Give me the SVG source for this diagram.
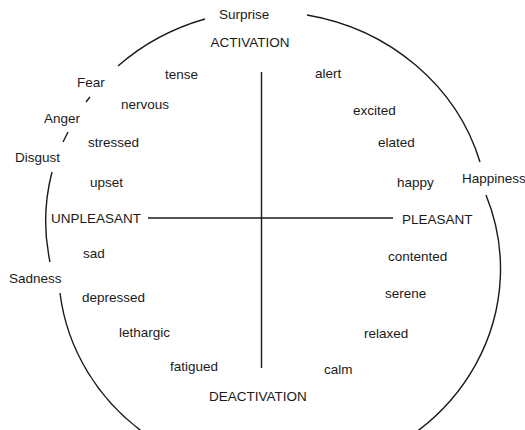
<svg xmlns="http://www.w3.org/2000/svg" width="525" height="430" viewBox="0 0 525 430">
<style>
text{font-family:"Liberation Sans",Arial,sans-serif;font-size:13.5px;fill:#1a1a1a}
.ln{fill:none;stroke:#1a1a1a;stroke-width:1.4}
</style>
<rect width="525" height="430" fill="#fff"/>
<g id="connectors">
<path class="ln" d="M205,19 A221,207.5 0 0 0 118,66"/>
<path class="ln" d="M90,97 L86,102"/>
<path class="ln" d="M68,132 L63,142"/>
<path class="ln" d="M52,172 A221,207.5 0 0 0 50,262"/>
<path class="ln" d="M60,293 A221,207.5 0 1 0 486,195"/>
<path class="ln" d="M480,162 A221,207.5 0 0 0 307,15"/>
<path class="ln" d="M148,218 L393,218"/>
<path class="ln" d="M261.5,72 L261.5,368"/>
</g>
<g id="emotions">
<text x="219" y="19">Surprise</text>
<text x="77" y="87">Fear</text>
<text x="44" y="123">Anger</text>
<text x="15" y="162">Disgust</text>
<text x="9" y="283">Sadness</text>
<text x="462" y="183">Happiness</text>
</g>
<g id="axes-labels">
<text x="250" y="47" text-anchor="middle">ACTIVATION</text>
<text x="258" y="401" text-anchor="middle">DEACTIVATION</text>
<text x="51" y="223">UNPLEASANT</text>
<text x="402" y="224">PLEASANT</text>
</g>
<g id="affect-words">
<text x="165" y="79">tense</text>
<text x="121" y="109">nervous</text>
<text x="88" y="147">stressed</text>
<text x="90" y="187">upset</text>
<text x="83" y="258">sad</text>
<text x="82" y="302">depressed</text>
<text x="119" y="337">lethargic</text>
<text x="170" y="371">fatigued</text>
<text x="315" y="78">alert</text>
<text x="353" y="115">excited</text>
<text x="378" y="147">elated</text>
<text x="397" y="187">happy</text>
<text x="388" y="261">contented</text>
<text x="385" y="298">serene</text>
<text x="364" y="338">relaxed</text>
<text x="324" y="374">calm</text>
</g>
</svg>
